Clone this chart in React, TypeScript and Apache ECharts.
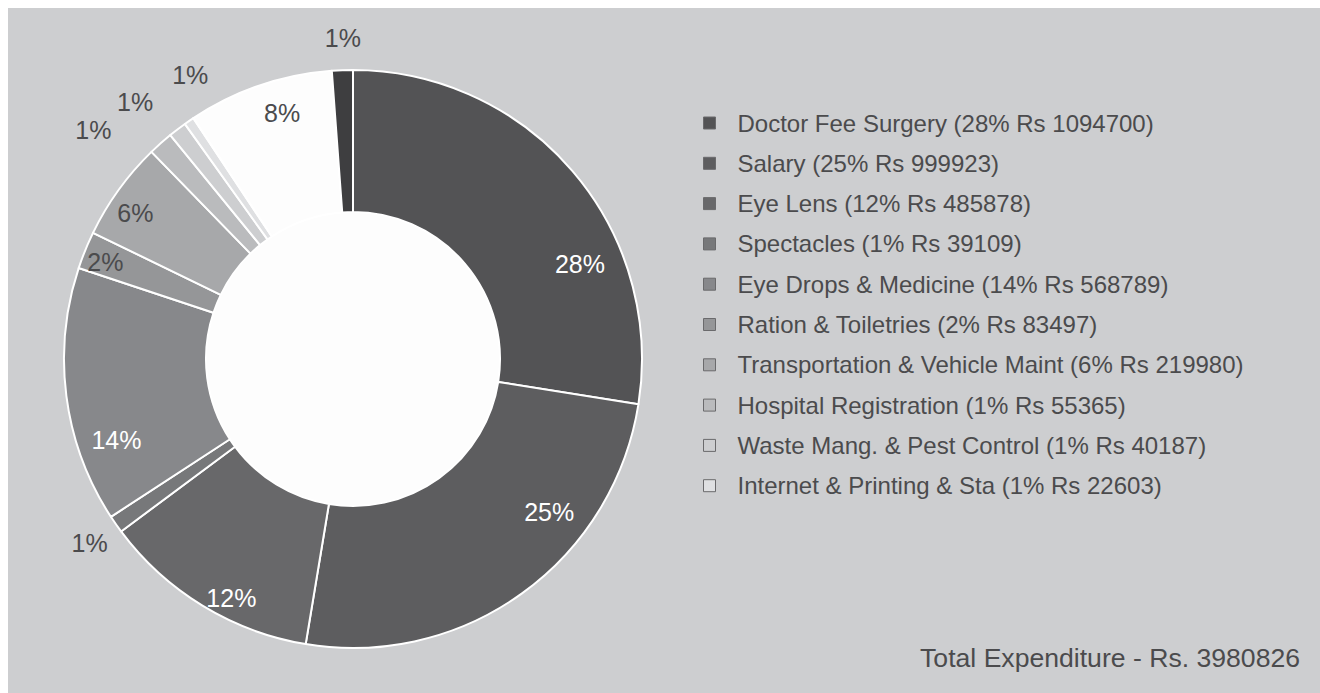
import React, { useEffect, useRef } from "react";
import * as echarts from "echarts";

// ---- data ----
const CATEGORIES = [
  "Doctor Fee Surgery",
  "Salary",
  "Eye Lens",
  "Spectacles",
  "Eye Drops & Medicine",
  "Ration & Toiletries",
  "Transportation & Vehicle Maint",
  "Hospital Registration",
  "Waste Mang. & Pest Control",
  "Internet & Printing & Sta",
];
const AMOUNTS = [1094700, 999923, 485878, 39109, 568789, 83497, 219980, 55365, 40187, 22603];
const PERCENTS = [28, 25, 12, 1, 14, 2, 6, 1, 1, 1];

// two unlabelled slices drawn after the listed ones (estimated amounts)
const EXTRA_NAMES = ["Unlisted (white)", "Unlisted (dark)"];
const EXTRA_AMOUNTS = [324295, 46500];
const EXTRA_PERCENTS = [8, 1];

const TOTAL_LABEL = "Total Expenditure - Rs. 3980826";

// ---- styles ----
const SLICE_COLORS = [
  "#535355", "#5d5d5f", "#68686a", "#77787a", "#87888b",
  "#959698", "#a7a8aa", "#babbbd", "#cdced0", "#dfe0e2",
  "#fdfdfd", "#3e3e40",
];
const LABEL_COLORS = [
  "#ffffff", "#ffffff", "#ffffff", "#4b4b4d", "#ffffff",
  "#4b4b4d", "#4b4b4d", "#4b4b4d", "#4b4b4d", "#4b4b4d",
  "#4b4b4d", "#4b4b4d",
];
// label placement: angular shift from slice middle (deg) and radius (px)
const LABEL_SHIFT = [17.8, -16.2, -4.4, 0, -11.5, -0.7, -2.0, -6.9, -2.9, 4.7, 2.8, 0.3];
const LABEL_RADIUS = [246, 249, 268, 321, 250, 266, 262, 346, 337, 327, 256, 321];

const BG = "#cdced0";
const TEXT = "#4b4b4d";
const FONT = '"Liberation Sans", Arial, Helvetica, sans-serif';
const CX = 345;
const CY = 351;
const R_IN = 147;
const R_OUT = 289;

export default function App() {
  const ref = useRef<HTMLDivElement>(null);

  useEffect(() => {
    if (!ref.current) return;
    const chart = echarts.init(ref.current, null, { renderer: "svg" });

    const names = [...CATEGORIES, ...EXTRA_NAMES];
    const amounts = [...AMOUNTS, ...EXTRA_AMOUNTS];
    const percents = [...PERCENTS, ...EXTRA_PERCENTS];
    const sum = amounts.reduce((a, b) => a + b, 0);
    const mids: number[] = [];
    let acc = 0;
    amounts.forEach((v) => {
      mids.push(((acc + v / 2) / sum) * 360);
      acc += v;
    });

    const legendText: Record<string, string> = {};
    CATEGORIES.forEach((c, i) => {
      legendText[c] = `${c} (${PERCENTS[i]}% Rs ${AMOUNTS[i]})`;
    });

    const data = names.map((n, i) => ({
      name: n,
      value: amounts[i],
      itemStyle: { color: SLICE_COLORS[i] },
      label: { color: LABEL_COLORS[i] },
    }));

    chart.setOption({
      animation: false,
      backgroundColor: BG,
      graphic: [
        {
          type: "circle",
          shape: { cx: CX, cy: CY, r: R_IN },
          style: { fill: "#fdfdfd" },
          silent: true,
          z: 0,
        },
        {
          type: "text",
          right: 20,
          top: 636,
          style: {
            text: TOTAL_LABEL,
            fill: TEXT,
            font: `26.6px ${FONT}`,
          },
        },
      ],
      legend: {
        orient: "vertical",
        left: 695,
        top: 103,
        padding: 0,
        itemGap: 16.3,
        itemWidth: 12,
        itemHeight: 12,
        icon: "rect",
        selectedMode: false,
        data: CATEGORIES,
        formatter: (name: string) => legendText[name] || name,
        itemStyle: { borderColor: "#6a6a6c", borderWidth: 1 },
        textStyle: {
          color: TEXT,
          fontSize: 24,
          lineHeight: 24,
          fontFamily: FONT,
          padding: [0, 0, 0, 17],
        },
      },
      series: [
        {
          type: "pie",
          center: [CX, CY],
          radius: [R_IN, R_OUT],
          startAngle: 90,
          clockwise: true,
          avoidLabelOverlap: false,
          silent: true,
          itemStyle: { borderColor: "#ffffff", borderWidth: 2 },
          label: {
            show: true,
            position: "inside",
            formatter: (p: any) => `${percents[p.dataIndex]}%`,
            fontSize: 25,
            fontFamily: FONT,
            textBorderWidth: 0,
          },
          labelLine: { show: false },
          labelLayout: (p: any) => {
            const i = p.dataIndex;
            const a = ((mids[i] + LABEL_SHIFT[i]) * Math.PI) / 180;
            const r = LABEL_RADIUS[i];
            return {
              x: CX + r * Math.sin(a),
              y: CY - r * Math.cos(a),
              align: "center",
              verticalAlign: "middle",
            };
          },
          emphasis: { disabled: true },
          data,
        },
      ],
    });

    return () => chart.dispose();
  }, []);

  return (
    <div
      ref={ref}
      style={{ position: "absolute", left: 8, top: 8, width: 1312, height: 685 }}
    />
  );
}
